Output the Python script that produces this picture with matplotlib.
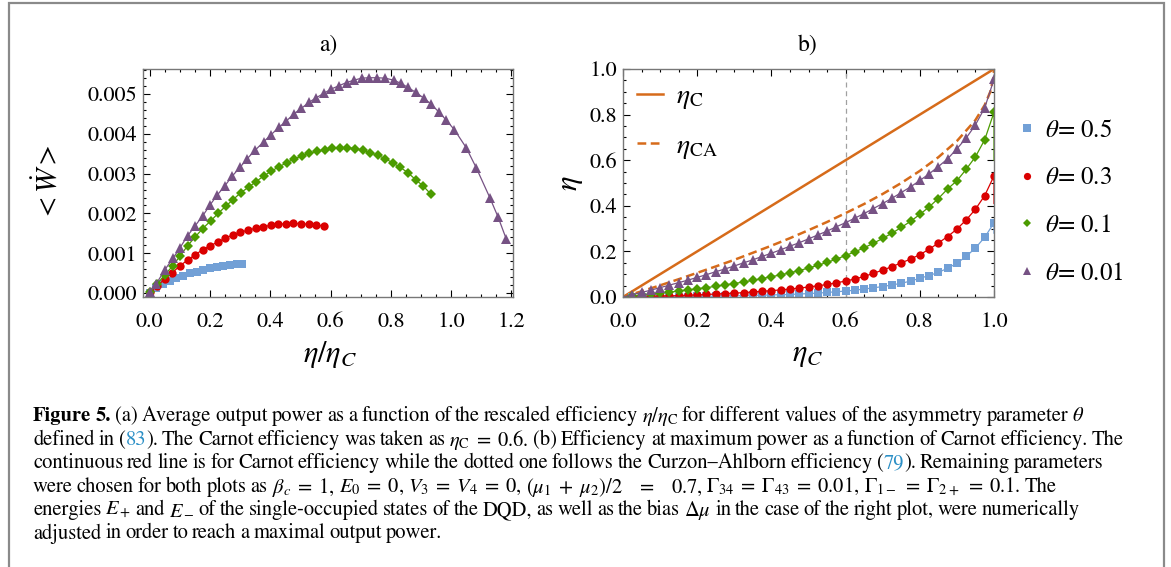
import matplotlib
matplotlib.use("Agg")
import re
import matplotlib.pyplot as plt
from matplotlib.lines import Line2D
from matplotlib.patches import Rectangle
from matplotlib.ticker import MultipleLocator, FormatStrFormatter

plt.rcParams["font.family"] = "STIXGeneral"
plt.rcParams["mathtext.fontset"] = "stix"

BLUE = "#72a0d6"
RED = "#da0000"
GREEN = "#4b9b00"
PURPLE = "#765284"
ORANGE = "#d66b1a"
LINK = "#2b8fc6"

# ---- panel a): average output power vs eta/eta_C ----
a_x_05 = [0.000, 0.022, 0.044, 0.067, 0.089, 0.111, 0.133, 0.156, 0.178, 0.200,
          0.222, 0.244, 0.267, 0.289, 0.306]
a_w_05 = [0.00000, 0.00012, 0.00022, 0.00031, 0.00038, 0.00044, 0.00050, 0.00054,
          0.00058, 0.00062, 0.00065, 0.00068, 0.00070, 0.00072, 0.00074]

a_x_03 = [0.000, 0.025, 0.050, 0.075, 0.100, 0.126, 0.151, 0.176, 0.201, 0.226,
          0.251, 0.276, 0.301, 0.327, 0.352, 0.377, 0.402, 0.427, 0.452, 0.477,
          0.502, 0.528, 0.553, 0.578]
a_w_03 = [0.00002, 0.00018, 0.00035, 0.00051, 0.00068, 0.00083, 0.00096, 0.00109,
          0.00119, 0.00128, 0.00138, 0.00146, 0.00153, 0.00158, 0.00163, 0.00167,
          0.00170, 0.00173, 0.00174, 0.00175, 0.00174, 0.00173, 0.00171, 0.00168]

a_x_01 = [0.000, 0.025, 0.050, 0.076, 0.101, 0.126, 0.151, 0.176, 0.202, 0.227,
          0.252, 0.277, 0.302, 0.328, 0.353, 0.378, 0.403, 0.428, 0.454, 0.479,
          0.504, 0.529, 0.554, 0.580, 0.605, 0.630, 0.655, 0.680, 0.706, 0.731,
          0.756, 0.781, 0.806, 0.831, 0.857, 0.882, 0.907, 0.932]
a_w_01 = [0.00002, 0.00023, 0.00045, 0.00068, 0.00093, 0.00119, 0.00141, 0.00162,
          0.00181, 0.00200, 0.00218, 0.00235, 0.00252, 0.00266, 0.00280, 0.00294,
          0.00306, 0.00317, 0.00327, 0.00337, 0.00344, 0.00351, 0.00356, 0.00360,
          0.00364, 0.00365, 0.00365, 0.00363, 0.00359, 0.00353, 0.00346, 0.00338,
          0.00327, 0.00316, 0.00302, 0.00285, 0.00269, 0.00249]

a_x_001 = [0.000, 0.022, 0.050, 0.078, 0.100, 0.126, 0.150, 0.176, 0.200, 0.224,
           0.250, 0.274, 0.300, 0.324, 0.350, 0.378, 0.403, 0.428, 0.453, 0.478,
           0.503, 0.528, 0.553, 0.578, 0.603, 0.628, 0.653, 0.678, 0.703, 0.728,
           0.753, 0.781, 0.809, 0.833, 0.856, 0.883, 0.909, 0.933, 0.959, 0.983,
           1.011, 1.050, 1.083, 1.128, 1.156, 1.183]
a_w_001 = [0.00002, 0.00023, 0.00058, 0.00088, 0.00113, 0.00144, 0.00168, 0.00194,
           0.00221, 0.00246, 0.00270, 0.00294, 0.00316, 0.00338, 0.00359, 0.00380,
           0.00398, 0.00416, 0.00432, 0.00450, 0.00464, 0.00479, 0.00491, 0.00502,
           0.00513, 0.00521, 0.00529, 0.00535, 0.00540, 0.00541, 0.00541, 0.00540,
           0.00535, 0.00527, 0.00517, 0.00504, 0.00490, 0.00475, 0.00455, 0.00435,
           0.00410, 0.00365, 0.00315, 0.00240, 0.00190, 0.00135]

# ---- panel b): efficiency at max power vs eta_C ----
b_x = [0.000, 0.025, 0.050, 0.075, 0.100, 0.125, 0.150, 0.175, 0.200, 0.225,
       0.250, 0.275, 0.300, 0.325, 0.350, 0.375, 0.400, 0.425, 0.450, 0.475,
       0.500, 0.525, 0.550, 0.575, 0.600, 0.625, 0.650, 0.675, 0.700, 0.725,
       0.750, 0.775, 0.800, 0.825, 0.850, 0.875, 0.900, 0.925, 0.950, 0.975,
       1.000]
b_05 = [0.000, 0.000, 0.001, 0.001, 0.001, 0.002, 0.002, 0.002, 0.003, 0.003,
        0.004, 0.004, 0.005, 0.006, 0.007, 0.008, 0.009, 0.010, 0.011, 0.013,
        0.015, 0.017, 0.020, 0.023, 0.026, 0.030, 0.035, 0.040, 0.046, 0.053,
        0.060, 0.070, 0.082, 0.094, 0.108, 0.126, 0.148, 0.178, 0.215, 0.262,
        0.325]
b_03 = [0.000, 0.001, 0.002, 0.003, 0.004, 0.005, 0.006, 0.008, 0.009, 0.011,
        0.013, 0.015, 0.017, 0.019, 0.022, 0.025, 0.028, 0.031, 0.035, 0.039,
        0.044, 0.049, 0.055, 0.062, 0.070, 0.079, 0.090, 0.104, 0.118, 0.133,
        0.150, 0.166, 0.186, 0.209, 0.237, 0.265, 0.298, 0.338, 0.385, 0.445,
        0.531]
b_01 = [0.000, 0.004, 0.008, 0.012, 0.017, 0.021, 0.026, 0.031, 0.036, 0.041,
        0.047, 0.053, 0.059, 0.066, 0.073, 0.081, 0.089, 0.097, 0.106, 0.116,
        0.127, 0.139, 0.152, 0.166, 0.182, 0.198, 0.216, 0.236, 0.257, 0.280,
        0.305, 0.332, 0.362, 0.395, 0.432, 0.474, 0.510, 0.560, 0.615, 0.690,
        0.810]
b_001 = [0.000, 0.010, 0.020, 0.030, 0.041, 0.052, 0.063, 0.074, 0.086, 0.098,
         0.111, 0.123, 0.136, 0.150, 0.163, 0.178, 0.192, 0.207, 0.223, 0.238,
         0.255, 0.272, 0.289, 0.308, 0.326, 0.346, 0.366, 0.388, 0.410, 0.433,
         0.458, 0.483, 0.511, 0.540, 0.572, 0.606, 0.650, 0.697, 0.755, 0.830,
         0.955]
# where the fitted lines end at eta_C = 1
b_end = {"0.5": 0.28, "0.3": 0.41, "0.1": 0.60, "0.01": 0.955}

carnot_x = [0.0, 1.0]
carnot_y = [0.0, 1.0]
ca_x = [0.00, 0.05, 0.10, 0.15, 0.20, 0.25, 0.30, 0.35, 0.40, 0.45, 0.50, 0.55,
        0.60, 0.65, 0.70, 0.75, 0.80, 0.85, 0.90, 0.95, 0.975, 0.99, 0.999, 1.00]
ca_y = [0.000, 0.025, 0.051, 0.078, 0.106, 0.134, 0.163, 0.194, 0.225, 0.258,
        0.293, 0.329, 0.368, 0.408, 0.452, 0.500, 0.553, 0.613, 0.684, 0.776,
        0.842, 0.900, 0.968, 1.000]
eta_c_ref = 0.6

thetas = ["0.5", "0.3", "0.1", "0.01"]
colors = [BLUE, RED, GREEN, PURPLE]
markers = ["s", "o", "D", "^"]
msizes = [6, 6, 4.6, 6.5]

W, H = 1171, 567
fig = plt.figure(figsize=(W / 100, H / 100), dpi=100)


def style_axes(ax):
    ax.tick_params(which="both", direction="in", top=True, right=True,
                   labelsize=16, width=0.8, color="black")
    ax.tick_params(which="major", length=5)
    ax.tick_params(which="minor", length=2.5)
    ax.tick_params(axis="x", pad=11)
    ax.tick_params(axis="y", pad=4)
    for sp in ax.spines.values():
        sp.set_color("#777777")
        sp.set_linewidth(1.0)


# left panel
ax1 = fig.add_axes([143 / W, 1 - 297 / H, 370 / W, 228 / H])
a_xs = [a_x_05, a_x_03, a_x_01, a_x_001]
a_ws = [a_w_05, a_w_03, a_w_01, a_w_001]
for xs, ws, c, m, ms in zip(a_xs, a_ws, colors, markers, msizes):
    ax1.plot(xs, ws, color=c, lw=0.9)
    ax1.plot(xs, ws, ls="none", marker=m, ms=ms, color=c, mew=0)
ax1.set_xlim(-0.022, 1.205)
ax1.set_ylim(-0.0001, 0.00563)
ax1.xaxis.set_major_locator(MultipleLocator(0.2))
ax1.xaxis.set_minor_locator(MultipleLocator(0.05))
ax1.yaxis.set_major_locator(MultipleLocator(0.001))
ax1.yaxis.set_minor_locator(MultipleLocator(0.0002))
ax1.xaxis.set_major_formatter(FormatStrFormatter("%.1f"))
ax1.yaxis.set_major_formatter(FormatStrFormatter("%.3f"))
style_axes(ax1)

# right panel
ax2 = fig.add_axes([623 / W, 1 - 297 / H, 371 / W, 228 / H])
ax2.axvline(eta_c_ref, color="#a0a0a0", lw=0.9, ls=(0, (4, 3)))
lc, = ax2.plot(carnot_x, carnot_y, color=ORANGE, lw=1.8, label=r"$\eta_{\rm C}$")
lca, = ax2.plot(ca_x, ca_y, color=ORANGE, lw=1.8, ls=(0, (3.5, 1.8)),
                label=r"$\eta_{\rm CA}$")
b_ys = [b_05, b_03, b_01, b_001]
handles = []
for th, ys, c, m, ms in zip(thetas, b_ys, colors, markers, msizes):
    ax2.plot(b_x + [1.0], ys + [b_end[th]], color=c, lw=0.9)
    ax2.plot(b_x[1:], ys[1:], ls="none", marker=m, ms=ms, color=c, mew=0)
    handles.append(Line2D([], [], ls="none", marker=m, ms=ms - 0.8, color=c, mew=0))
ax2.set_xlim(0, 1)
ax2.set_ylim(0, 1)
for axis in (ax2.xaxis, ax2.yaxis):
    axis.set_major_locator(MultipleLocator(0.2))
    axis.set_minor_locator(MultipleLocator(0.05))
    axis.set_major_formatter(FormatStrFormatter("%.1f"))
style_axes(ax2)

ax2.legend(handles=[lc, lca], loc="upper left", bbox_to_anchor=(-0.015, 1.02),
           frameon=False, fontsize=20, handlelength=0.95, handletextpad=0.45,
           labelspacing=0.8, borderaxespad=0.3)

fig.legend(handles, [r"$\theta$= " + t for t in thetas], loc="upper left",
           bbox_to_anchor=(994 / W, 1 - 96 / H), frameon=False, fontsize=18,
           handlelength=0.8, handletextpad=0.35, labelspacing=0.95)

# titles and axis labels
fig.text(328 / W, 1 - 45 / H, "a)", ha="center", va="center", fontsize=17)
fig.text(808 / W, 1 - 45 / H, "b)", ha="center", va="center", fontsize=17)
fig.text(330 / W, 1 - 355 / H, r"$\eta/\eta_C$", ha="center", va="center", fontsize=22)
fig.text(808 / W, 1 - 355 / H, r"$\eta_C$", ha="center", va="center", fontsize=22)
fig.text(47 / W, 1 - 183 / H, r"$<\dot{W}>$", ha="center", va="center",
         fontsize=21, rotation=90)
fig.text(571 / W, 1 - 183 / H, r"$\eta$", ha="center", va="center",
         fontsize=22, rotation=90)

# frame round the whole figure
fig.add_artist(Rectangle((9 / W, -0.05), 1155 / W, 1.05 - 3 / H,
                         transform=fig.transFigure, fill=False,
                         ec="#8a8a8a", lw=1.6, clip_on=False))

# caption, drawn word by word; [..] = link colour, ** = bold
caption = [
    r"**Figure** **5.** (a) Average output power as a function of the rescaled efficiency $\eta/\eta_{\rm C}$ for different values of the asymmetry parameter $\theta$",
    r"defined in ([83]). The Carnot efficiency was taken as $\eta_{\rm C}\;=\;0.6$. (b) Efficiency at maximum power as a function of Carnot efficiency. The",
    r"continuous red line is for Carnot efficiency while the dotted one follows the Curzon–Ahlborn efficiency ([79]). Remaining parameters",
    r"were chosen for both plots as $\beta_c\;=\;1$, $E_0\;=\;0$, $V_3\;=\;V_4\;=\;0$, $(\mu_1\;+\;\mu_2)/2\quad=\quad0.7$, $\Gamma_{34}\;=\;\Gamma_{43}\;=\;0.01$, $\Gamma_{1-}\;=\;\Gamma_{2+}\;=\;0.1$. The",
    r"energies $E_+$ and $E_-$ of the single-occupied states of the DQD, as well as the bias $\Delta\mu$ in the case of the right plot, were numerically",
    r"adjusted in order to reach a maximal output power.",
]
cap_size = 14.8
cap_x0 = 33
cap_y0 = 410
cap_dy = 23.4

fig.canvas.draw()
renderer = fig.canvas.get_renderer()


def put(s, x, y, color="black", weight="normal"):
    t = fig.text(x / W, 1 - y / H, s, ha="left", va="center_baseline",
                 fontsize=cap_size, color=color, fontweight=weight)
    return t.get_window_extent(renderer).width


probe = fig.text(0, 0, "a", fontsize=cap_size)
wa = probe.get_window_extent(renderer).width
probe.set_text("a a")
space = 0.8 * (probe.get_window_extent(renderer).width - 2 * wa)
probe.remove()

for i, line in enumerate(caption):
    y = cap_y0 + i * cap_dy + 4
    x = cap_x0
    words = re.findall(r"\$[^$]*\$\S*|\S+", line)
    for w in words:
        bold = w.startswith("**")
        w = w.replace("**", "")
        parts = re.split(r"(\[[^\]]*\])", w)
        for p in parts:
            if not p:
                continue
            if p.startswith("["):
                x += put(p[1:-1], x, y, color=LINK)
            else:
                x += put(p, x, y, weight="bold" if bold else "normal")
        x += space

fig.savefig("out.png", dpi=100)
